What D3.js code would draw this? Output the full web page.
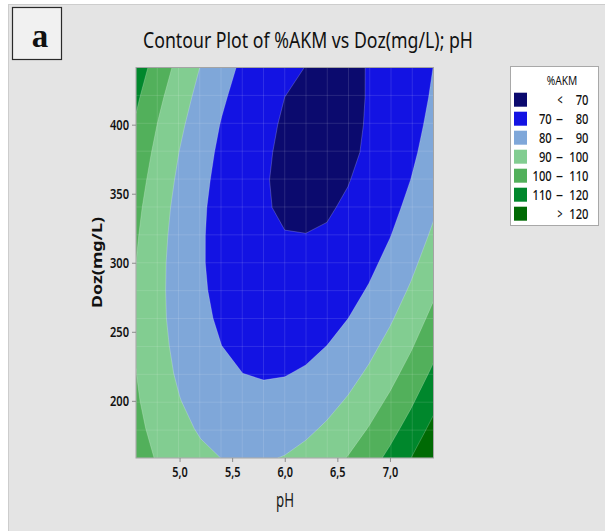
<!DOCTYPE html>
<html><head><meta charset="utf-8">
<script src="https://cdn.jsdelivr.net/npm/d3@7"></script>
<style>html,body{margin:0;padding:0;background:#fff;} svg{display:block;}</style>
</head><body><svg id="chart" width="605" height="531"></svg>
<script>
// ---- data ----
const phGrid  = [4.586, 4.8, 5.0, 5.2, 5.4, 5.6, 5.8, 6.0, 6.2, 6.4, 6.6, 6.8, 7.0, 7.2, 7.414];
const dozGrid = [158.6, 180, 200, 220, 240, 260, 280, 300, 320, 340, 360, 380, 400, 420, 441.4];
// %AKM values, one row per Doz level (bottom to top), one column per pH level
const akm158 = [104.5, 98.9, 94.9, 91.9, 89.9, 89.1, 89.2, 90.4, 92.7, 96.1, 100.4, 105.9, 112.4, 120.0, 129.2];
const akm180 = [102.5, 96.7, 92.3, 89.0, 86.7, 85.5, 85.3, 86.2, 88.2, 91.2, 95.3, 100.4, 106.6, 113.8, 122.7];
const akm200 = [101.1, 94.9, 90.3, 86.6, 84.1, 82.6, 82.1, 82.7, 84.4, 87.1, 90.8, 95.7, 101.6, 108.5, 117.1];
const akm220 = [100.1, 93.6, 88.6, 84.7, 81.8, 80.0, 79.3, 79.6, 80.9, 83.3, 86.8, 91.3, 96.9, 103.6, 111.8];
const akm240 = [99.5, 92.7, 87.4, 83.2, 80.0, 77.9, 76.8, 76.8, 77.9, 80.0, 83.2, 87.4, 92.7, 99.0, 107.0];
const akm260 = [99.3, 92.1, 86.5, 82.0, 78.6, 76.1, 74.8, 74.5, 75.3, 77.1, 79.9, 83.9, 88.8, 94.9, 102.5];
const akm280 = [99.4, 92.0, 86.1, 81.3, 77.5, 74.8, 73.1, 72.6, 73.0, 74.5, 77.1, 80.7, 85.4, 91.1, 98.4];
const akm300 = [100.0, 92.2, 86.1, 80.9, 76.9, 73.9, 71.9, 71.0, 71.2, 72.4, 74.6, 78.0, 82.4, 87.8, 94.8];
const akm320 = [101.0, 92.9, 86.4, 81.0, 76.6, 73.3, 71.0, 70.2, 70.1, 70.6, 72.6, 75.6, 79.7, 84.8, 91.5];
const akm340 = [102.3, 93.9, 87.1, 81.4, 76.7, 73.1, 70.6, 69.1, 68.6, 69.3, 70.9, 73.7, 77.4, 82.3, 88.6];
const akm360 = [104.1, 95.4, 88.3, 82.3, 77.3, 73.4, 70.5, 68.7, 68.0, 68.3, 69.7, 72.1, 75.6, 80.1, 86.1];
const akm380 = [106.2, 97.2, 89.8, 83.5, 78.2, 74.0, 70.9, 68.8, 67.7, 67.7, 68.8, 70.9, 74.1, 78.3, 84.0];
const akm400 = [108.8, 99.4, 91.7, 85.1, 79.5, 75.0, 71.6, 69.2, 67.8, 67.6, 68.3, 70.6, 73.0, 77.0, 82.4];
const akm420 = [111.7, 102.0, 94.1, 87.1, 81.3, 76.5, 72.7, 70.0, 68.4, 67.8, 68.2, 70.4, 72.4, 76.0, 81.1];
const akm441 = [115.3, 105.3, 97.0, 89.7, 83.6, 78.4, 74.3, 71.3, 69.9, 68.5, 68.6, 70.3, 72.1, 75.4, 80.1];
const akmRows = [akm158, akm180, akm200, akm220, akm240, akm260, akm280, akm300,
                 akm320, akm340, akm360, akm380, akm400, akm420, akm441];

const levels = [70, 80, 90, 100, 110, 120];
const bandColors = ["#0b0a6e", "#1313e3", "#7fa7d9", "#82cd91", "#52b05b", "#00872c", "#006a04"];
const xTicks = [5.0, 5.5, 6.0, 6.5, 7.0];
const xTickLabels = ["5,0", "5,5", "6,0", "6,5", "7,0"];
const yTicks = [200, 250, 300, 350, 400];
const yTickLabels = ["200", "250", "300", "350", "400"];
const titleText = "Contour Plot of %AKM vs Doz(mg/L); pH";
const xLabel = "pH", yLabel = "Doz(mg/L)", legendTitle = "%AKM", panelTag = "a";

// ---- drawing ----
const svg = d3.select("#chart");
const FONT = "'Noto Sans', 'Open Sans', sans-serif";

svg.append("rect").attr("x", 8.5).attr("y", 4.5).attr("width", 597).attr("height", 528)
  .attr("fill", "#e4e4e4").attr("stroke", "#cdcdcd").attr("stroke-width", 1);

const x = d3.scaleLinear().domain([phGrid[0], phGrid[phGrid.length - 1]]).range([136, 433.5]);
const y = d3.scaleLinear().domain([dozGrid[0], dozGrid[dozGrid.length - 1]]).range([458, 67.5]);
const ix = d3.scaleLinear().domain(d3.range(phGrid.length)).range(phGrid).clamp(true);
const iy = d3.scaleLinear().domain(d3.range(dozGrid.length)).range(dozGrid).clamp(true);

const [x0, x1] = x.range(), [y0, y1] = y.range();

svg.append("clipPath").attr("id", "plotclip").append("rect")
  .attr("x", x0).attr("y", y1).attr("width", x1 - x0).attr("height", y0 - y1);

const plot = svg.append("g").attr("clip-path", "url(#plotclip)");
plot.append("rect").attr("x", x0).attr("y", y1).attr("width", x1 - x0).attr("height", y0 - y1)
  .attr("fill", bandColors[0]);

const nx = phGrid.length, ny = dozGrid.length;
const values = akmRows.flat();
const contours = d3.contours().size([nx, ny]).thresholds(levels)(values);
const proj = d3.geoTransform({
  point(px, py) { this.stream.point(x(ix(px - 0.5)), y(iy(py - 0.5))); }
});
const path = d3.geoPath(proj);

plot.selectAll("path.band").data(contours).join("path")
  .attr("class", "band")
  .attr("d", path)
  .attr("fill", (d, i) => bandColors[i + 1])
  .attr("stroke", "rgba(255,255,255,0.35)")
  .attr("stroke-width", 0.6);

// faint mesh lines (rendering grid)
const meshU = d3.range(1, 14).map(k => -1.414 + k * 2.828 / 14);
plot.selectAll("line.mv").data(meshU).join("line")
  .attr("x1", d => x(6 + d)).attr("x2", d => x(6 + d)).attr("y1", y1).attr("y2", y0)
  .attr("stroke", "rgba(255,255,255,0.12)").attr("stroke-width", 1);
plot.selectAll("line.mh").data(meshU).join("line")
  .attr("y1", d => y(300 + 100 * d)).attr("y2", d => y(300 + 100 * d)).attr("x1", x0).attr("x2", x1)
  .attr("stroke", "rgba(255,255,255,0.12)").attr("stroke-width", 1);

// frame
svg.append("rect").attr("x", x0).attr("y", y1).attr("width", x1 - x0).attr("height", y0 - y1)
  .attr("fill", "none").attr("stroke", "#a4a4a4").attr("stroke-width", 1);

// axes
const gx = svg.append("g").attr("transform", `translate(0,${y0})`)
  .call(d3.axisBottom(x).tickValues(xTicks).tickFormat((d, i) => xTickLabels[i]).tickSize(4).tickSizeOuter(0));
gx.select(".domain").remove();
gx.selectAll(".tick line").attr("stroke", "#8c8c8c");
gx.selectAll(".tick text").attr("y", 9).attr("fill", "#111")
  .style("font-family", FONT).style("font-size", "14px").style("font-weight", "600")
  .attr("textLength", 15.5).attr("lengthAdjust", "spacingAndGlyphs");

const gy = svg.append("g").attr("transform", `translate(${x0},0)`)
  .call(d3.axisLeft(y).tickValues(yTicks).tickFormat((d, i) => yTickLabels[i]).tickSize(4).tickSizeOuter(0));
gy.select(".domain").remove();
gy.selectAll(".tick line").attr("stroke", "#8c8c8c");
gy.selectAll(".tick text").attr("x", -7).attr("fill", "#111")
  .style("font-family", FONT).style("font-size", "14px").style("font-weight", "600")
  .attr("textLength", 19).attr("lengthAdjust", "spacingAndGlyphs");

// axis labels
svg.append("text").attr("x", 285).attr("y", 506.5).attr("text-anchor", "middle")
  .style("font-family", FONT).style("font-size", "19px").attr("fill", "#1a1a1a")
  .attr("textLength", 18).attr("lengthAdjust", "spacingAndGlyphs").text(xLabel);
svg.append("text").attr("transform", "translate(102,262.5) rotate(-90)").attr("text-anchor", "middle")
  .style("font-family", FONT).style("font-size", "15px").style("font-weight", "bold").attr("fill", "#111")
  .attr("textLength", 91).attr("lengthAdjust", "spacingAndGlyphs").text(yLabel);

// title
svg.append("text").attr("x", 143).attr("y", 48)
  .style("font-family", FONT).style("font-size", "22px").attr("fill", "#111")
  .attr("textLength", 330).attr("lengthAdjust", "spacingAndGlyphs").text(titleText);

// panel tag
svg.append("rect").attr("x", 12.5).attr("y", 7.5).attr("width", 49).attr("height", 52)
  .attr("fill", "#f1f1f1").attr("stroke", "#2a2a2a").attr("stroke-width", 1.2);
svg.append("text").attr("x", 40).attr("y", 47).attr("text-anchor", "middle")
  .style("font-family", "'Liberation Serif', 'DejaVu Serif', serif").style("font-size", "33px")
  .style("font-weight", "bold").attr("fill", "#111").text(panelTag);

// legend
const lg = svg.append("g");
lg.append("rect").attr("x", 510.5).attr("y", 66.5).attr("width", 88).attr("height", 159)
  .attr("fill", "#fff").attr("stroke", "#a8a8a8").attr("stroke-width", 1);
lg.append("text").attr("x", 562).attr("y", 85).attr("text-anchor", "middle")
  .style("font-family", FONT).style("font-size", "13px").attr("fill", "#111")
  .attr("textLength", 30.5).attr("lengthAdjust", "spacingAndGlyphs").text(legendTitle);

const legendRows = bandColors.map((c, i) => {
  if (i === 0) return { color: c, lo: "<", hi: String(levels[0]), sym: true };
  if (i === levels.length) return { color: c, lo: ">", hi: String(levels[levels.length - 1]), sym: true };
  return { color: c, lo: String(levels[i - 1]), hi: String(levels[i]), sym: false };
});
const rowG = lg.selectAll("g.row").data(legendRows).join("g")
  .attr("transform", (d, i) => `translate(0,${92.7 + i * 19})`);
rowG.append("rect").attr("x", 514).attr("y", 0).attr("width", 13).attr("height", 14).attr("fill", d => d.color);
const txt = (sel) => sel.style("font-family", FONT).style("font-size", "14px").style("font-weight", "500").attr("fill", "#111");
rowG.append("text").attr("x", d => d.sym ? 560 : 551.7).attr("y", 12)
  .attr("text-anchor", d => d.sym ? "middle" : "end").call(txt)
  .attr("textLength", d => d.sym ? 5 : d.lo.length * 6.4).attr("lengthAdjust", "spacingAndGlyphs")
  .text(d => d.lo);
rowG.filter(d => !d.sym).append("text").attr("x", 559.5).attr("y", 12)
  .attr("text-anchor", "middle").call(txt).text("\u2013");
rowG.append("text").attr("x", 588.5).attr("y", 12).attr("text-anchor", "end").call(txt)
  .attr("textLength", d => d.hi.length * 6.4).attr("lengthAdjust", "spacingAndGlyphs")
  .text(d => d.hi);
</script></body></html>
